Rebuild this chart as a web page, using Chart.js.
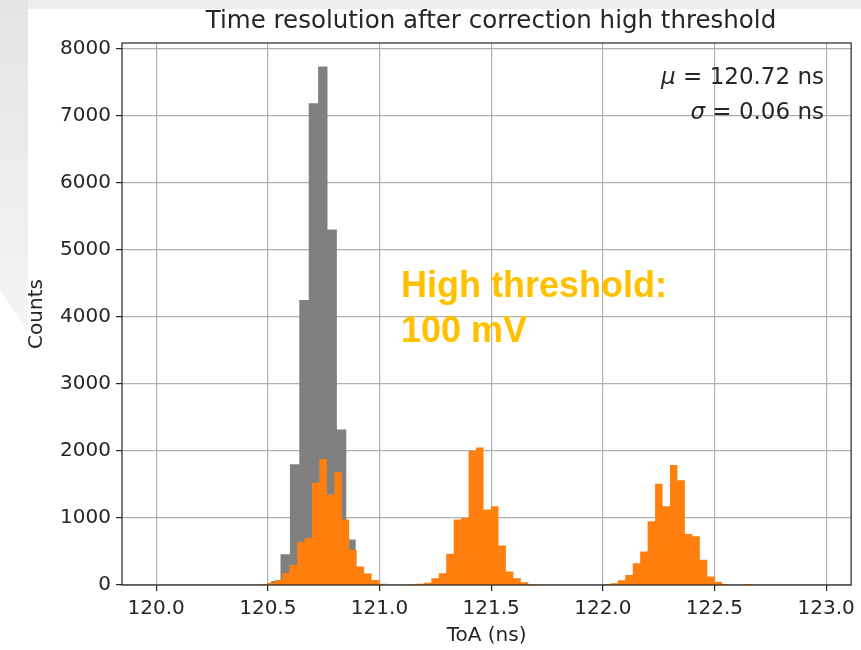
<!DOCTYPE html>
<html>
<head>
<meta charset="utf-8">
<script src="https://cdn.jsdelivr.net/npm/chart.js@4.4.1/dist/chart.umd.min.js"></script>
<style>
html,body{margin:0;padding:0;background:#fff;}
#wrap{position:relative;width:861px;height:650px;overflow:hidden;background:#fff;}
#bgTop{position:absolute;left:0;top:0;width:861px;height:9px;background:#ededed;}
#bgLeft{position:absolute;left:0;top:0;width:28px;height:330px;background:linear-gradient(#e4e4e4,#f4f4f4);clip-path:polygon(0 0,100% 0,100% 100%,0 88%);}
canvas{position:absolute;left:0;top:0;}
</style>
</head>
<body>
<div id="wrap"><div id="bgTop"></div><div id="bgLeft"></div><canvas id="c" width="861" height="650"></canvas></div>
<script>
// ---- data ----
const xTicks = [120.0, 120.5, 121.0, 121.5, 122.0, 122.5, 123.0];
const yTicks = [0, 1000, 2000, 3000, 4000, 5000, 6000, 7000, 8000];

// gray histogram (all hits): first bin edge, bin width, counts per bin
const grayStart = 120.4725;
const grayWidth = 0.0421;
const grayCounts = [15, 60, 460, 1800, 4250, 7180, 7730, 5300, 2320, 680, 130, 25];

// orange histogram (high threshold): first bin edge, bin width, counts per bin
const orangeStart = 120.4638;
const orangeWidth = 0.0334;
const orangeCounts = [
  5, 35, 75, 175, 300, 640, 700, 1525, 1880, 1350, 1680, 975, 520, 275, 170, 75, 20,
  0, 0, 0,
  10, 20, 35, 100, 175, 465, 975, 1000, 2000, 2050, 1125, 1175, 590, 200, 100, 40, 10,
  0, 0, 0, 0, 0, 0, 0, 0, 0,
  10, 25, 70, 150, 325, 500, 950, 1510, 1175, 1790, 1560, 760, 725, 375, 125, 50, 15,
  0, 0, 15
];

const titleText = 'Time resolution after correction high threshold';
const muText = ' = 120.72 ns';
const sigmaText = ' = 0.06 ns';
const overlayLines = ['High threshold:', '100 mV'];

// ---- build step points from histogram bins ----
function histPoints(start, width, counts) {
  const pts = counts.map((c, i) => ({x: start + i * width, y: c}));
  pts.push({x: start + counts.length * width, y: 0});
  return pts;
}

const FONT = 'DejaVu Sans';
const TXT = '#262626';

const overlay = {
  id: 'overlay',
  afterDraw(chart) {
    const ctx = chart.ctx;
    const a = chart.chartArea;
    ctx.save();
    // spines
    ctx.strokeStyle = TXT;
    ctx.lineWidth = 1.2;
    ctx.strokeRect(a.left, a.top, a.right - a.left, a.bottom - a.top);
    // title
    ctx.fillStyle = TXT;
    ctx.font = '24.5px "' + FONT + '"';
    ctx.textAlign = 'center';
    ctx.textBaseline = 'alphabetic';
    ctx.fillText(titleText, 491, 28);
    // mu / sigma annotation (right aligned)
    const rx = 824;
    ctx.textAlign = 'left';
    [['\u03bc', muText, 84], ['\u03c3', sigmaText, 119]].forEach(([sym, rest, by]) => {
      ctx.font = '23px "' + FONT + '"';
      const w1 = ctx.measureText(rest).width;
      ctx.fillText(rest, rx - w1, by);
      ctx.font = 'italic 23px "' + FONT + '"';
      const w0 = ctx.measureText(sym).width;
      ctx.fillText(sym, rx - w1 - w0, by);
    });
    // overlay label
    ctx.fillStyle = '#FFC000';
    ctx.font = 'bold 36px "Liberation Sans"';
    ctx.fillText(overlayLines[0], 401, 297);
    ctx.fillText(overlayLines[1], 401, 342);
    ctx.restore();
  }
};

new Chart(document.getElementById('c'), {
  type: 'line',
  data: {
    datasets: [
      {
        label: 'high threshold',
        data: histPoints(orangeStart, orangeWidth, orangeCounts),
        order: 1,
        stepped: true,
        fill: 'origin',
        backgroundColor: '#ff7f0e',
        borderColor: 'rgba(0,0,0,0)',
        borderWidth: 0,
        pointRadius: 0
      },
      {
        label: 'all',
        data: histPoints(grayStart, grayWidth, grayCounts),
        order: 2,
        stepped: true,
        fill: 'origin',
        backgroundColor: '#808080',
        borderColor: 'rgba(0,0,0,0)',
        borderWidth: 0,
        pointRadius: 0
      }
    ]
  },
  options: {
    responsive: false,
    animation: false,
    events: [],
    layout: {padding: {left: 0, right: 7, top: 43, bottom: 0}},
    plugins: {legend: {display: false}, tooltip: {enabled: false}, title: {display: false}},
    scales: {
      x: {
        type: 'linear',
        min: 119.847,
        max: 123.112,
        z: 1,
        afterBuildTicks: s => { s.ticks = xTicks.map(v => ({value: v})); },
        afterFit: s => { s.height = 65; },
        ticks: {
          callback: v => Number(v).toFixed(1),
          font: {family: FONT, size: 20},
          color: TXT,
          padding: 6,
          maxRotation: 0,
          autoSkip: false
        },
        grid: {color: '#b0b0b0', lineWidth: 1.2, tickColor: TXT, tickLength: 6},
        border: {display: false},
        title: {display: true, text: 'ToA (ns)', font: {family: FONT, size: 20}, color: TXT, padding: {top: 0, bottom: 2}}
      },
      y: {
        type: 'linear',
        min: 0,
        max: 8080,
        z: 1,
        afterBuildTicks: s => { s.ticks = yTicks.map(v => ({value: v})); },
        afterFit: s => { s.width = 122; },
        ticks: {callback: v => String(Math.round(v)), font: {family: FONT, size: 20}, color: TXT, padding: 5},
        grid: {color: '#b0b0b0', lineWidth: 1.2, tickColor: TXT, tickLength: 6},
        border: {display: false},
        title: {display: true, text: 'Counts', font: {family: FONT, size: 20}, color: TXT, padding: {top: 25, bottom: 0}}
      }
    }
  },
  plugins: [overlay]
});
</script>
</body>
</html>
